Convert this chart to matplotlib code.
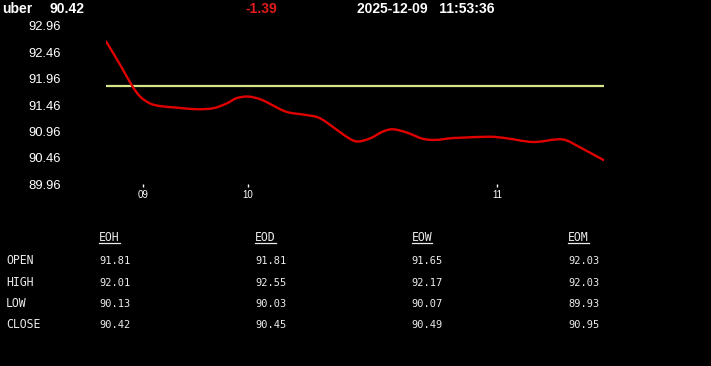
import matplotlib
matplotlib.use("Agg")
import matplotlib.pyplot as plt
from matplotlib.lines import Line2D
from matplotlib.path import Path
from matplotlib.patches import PathPatch

# header
symbol = "uber"
last_price = "90.42"
change = "-1.39"
stamp = "2025-12-09   11:53:36"

# price trace (x = sample position, y = price)
trace_x = [0, 2.8, 5.1, 6.8, 8.8, 10.8, 14.2, 18.2, 21.5, 24.2, 26.2, 28.5,
           30.9, 32.9, 36.2, 40.2, 42.9, 46.3, 48.9, 50.6, 53.0, 55.6, 57.6,
           60.3, 63.6, 66.3, 69.0, 71.0, 77.0, 80.4, 85.7, 90.4, 92.4, 95.1, 100]
trace_y = [92.66, 92.22, 91.84, 91.62, 91.49, 91.44, 91.41, 91.38, 91.40,
           91.49, 91.59, 91.62, 91.57, 91.48, 91.33, 91.27, 91.21, 90.99,
           90.82, 90.77, 90.83, 90.96, 91.00, 90.94, 90.82, 90.80, 90.83,
           90.84, 90.86, 90.83, 90.76, 90.81, 90.79, 90.66, 90.41]
open_level = 91.81

hour_pos = [7.3, 28.5, 78.5]
hour_labels = ["09", "10", "11"]
y_ticks = [92.96, 92.46, 91.96, 91.46, 90.96, 90.46, 89.96]

# table
periods = ["EOH", "EOD", "EOW", "EOM"]
rows = ["OPEN", "HIGH", "LOW", "CLOSE"]
open_vals = ["91.81", "91.81", "91.65", "92.03"]
high_vals = ["92.01", "92.55", "92.17", "92.03"]
low_vals = ["90.13", "90.03", "90.07", "89.93"]
close_vals = ["90.42", "90.45", "90.49", "90.95"]

W, H = 711, 366
fig = plt.figure(figsize=(W / 100, H / 100), dpi=100, facecolor="black")


def fx(px):
    return px / W


def fy(py):
    return 1 - py / H


def smooth_path(xs, ys):
    # catmull-rom through the points, drawn as cubic bezier segments
    verts = [(xs[0], ys[0])]
    codes = [Path.MOVETO]
    n = len(xs)
    for i in range(n - 1):
        x0, y0 = (xs[i - 1], ys[i - 1]) if i > 0 else (xs[i], ys[i])
        x1, y1 = xs[i], ys[i]
        x2, y2 = xs[i + 1], ys[i + 1]
        x3, y3 = (xs[i + 2], ys[i + 2]) if i + 2 < n else (x2, y2)
        verts += [(x1 + (x2 - x0) / 6, y1 + (y2 - y0) / 6),
                  (x2 - (x3 - x1) / 6, y2 - (y3 - y1) / 6),
                  (x2, y2)]
        codes += [Path.CURVE4] * 3
    return Path(verts, codes)


ax = fig.add_axes([fx(106.2), fy(184.3), fx(604.4) - fx(106.2), fy(25.7) - fy(184.3)])
ax.set_facecolor("black")
ax.add_patch(PathPatch(smooth_path(trace_x, trace_y), facecolor="none",
                       edgecolor="#e00000", lw=1.7, capstyle="round", zorder=3))
ax.axhline(open_level, color="#d8e38c", lw=1.6, zorder=2)
ax.set_xlim(0, 100)
ax.set_ylim(89.96, 92.96)
for s in ax.spines.values():
    s.set_visible(False)
ax.set_yticks(y_ticks)
ax.set_yticklabels([f"{v:.2f}" for v in y_ticks])
ax.tick_params(axis="y", length=0, pad=32.5, labelcolor="white", labelsize=9.4)
ax.set_xticks(hour_pos)
ax.set_xticklabels(hour_labels)
ax.tick_params(axis="x", length=2.2, width=1, color="white", pad=2,
               labelcolor="white", labelsize=7)
for lab in ax.get_xticklabels() + ax.get_yticklabels():
    lab.set_fontfamily("Liberation Sans")

hdr = dict(fontfamily="Liberation Sans", fontweight="bold", fontsize=10,
           va="baseline", ha="left")
fig.text(fx(2.5), fy(12.7), symbol, color="white", **hdr)
fig.text(fx(50), fy(12.7), last_price, color="white", **hdr)
fig.text(fx(246), fy(12.7), change, color="#e31b1b", **hdr)
fig.text(fx(357), fy(12.7), stamp, color="white", **hdr)

mono = dict(fontfamily="DejaVu Sans Mono", fontsize=7.5, color="#ececec",
            va="baseline", ha="left")
label_font = dict(mono, fontsize=8.3)
col_x = [99, 255, 411.5, 568]
row_y = [264, 285.5, 307, 328.5]
table = [open_vals, high_vals, low_vals, close_vals]

renderer = fig.canvas.get_renderer()
for cx, name in zip(col_x, periods):
    t = fig.text(fx(cx), fy(241.3), name, **label_font)
    bb = t.get_window_extent(renderer)
    fig.add_artist(Line2D([bb.x0 / W, bb.x1 / W], [fy(243.3), fy(243.3)],
                          transform=fig.transFigure, color="#ececec", lw=0.9))

for ry, name, vals in zip(row_y, rows, table):
    fig.text(fx(6), fy(ry), name, **label_font)
    for cx, v in zip(col_x, vals):
        fig.text(fx(cx), fy(ry), v, **mono)

fig.savefig("out.png", dpi=100, facecolor="black")
